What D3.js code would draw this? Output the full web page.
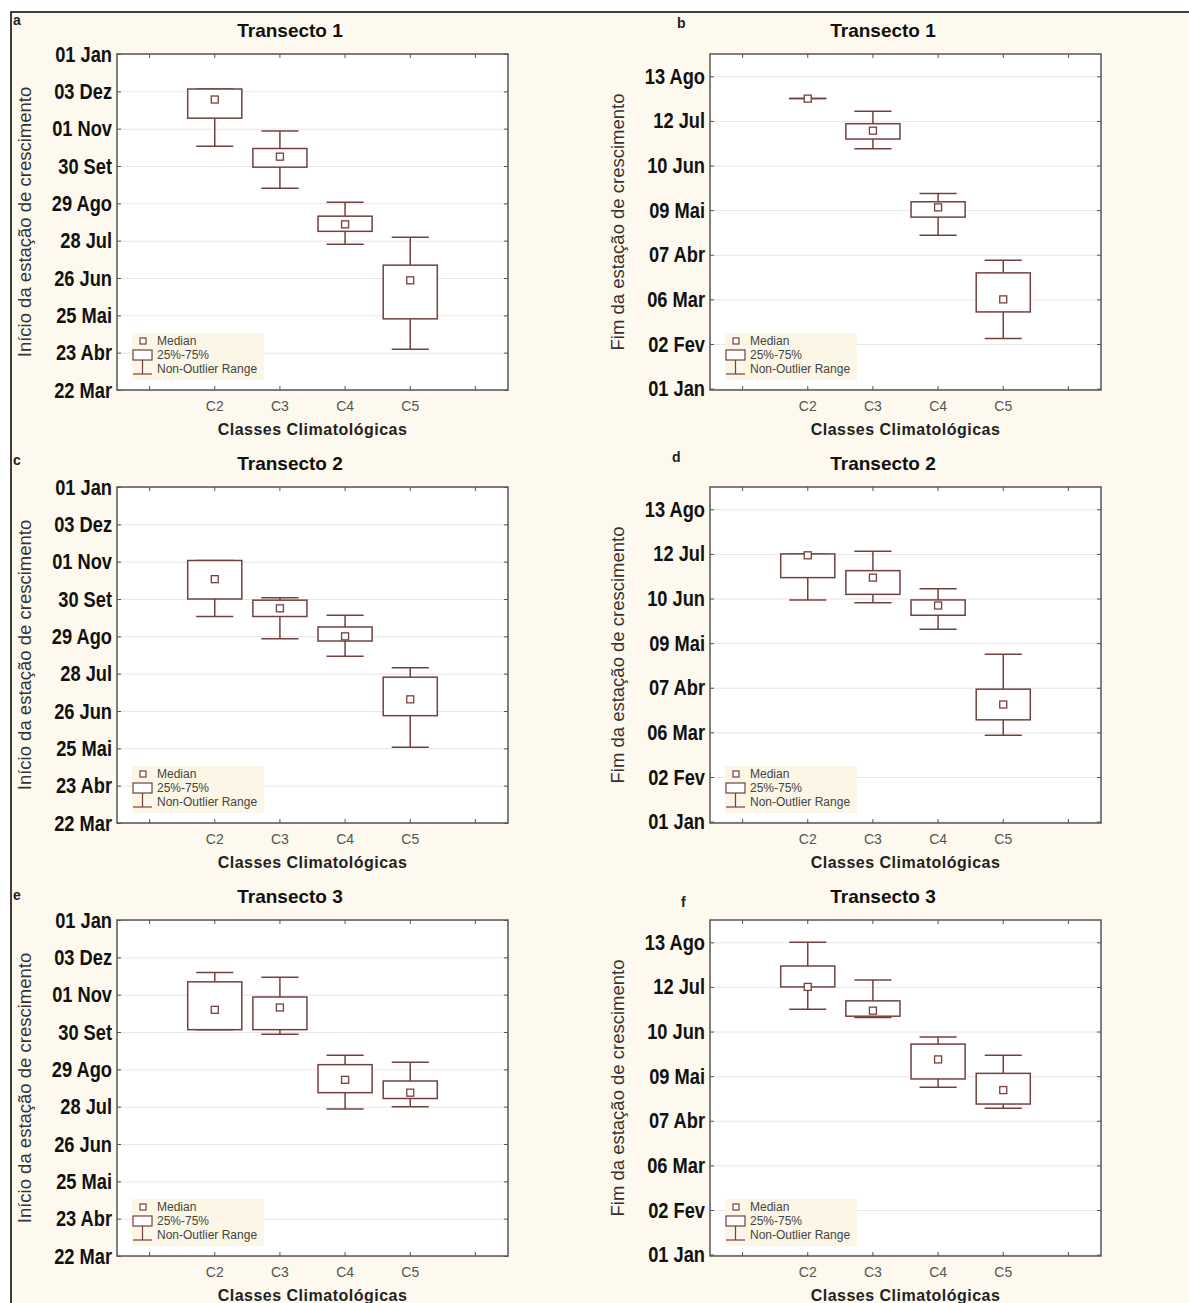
<!DOCTYPE html>
<html>
<head>
<meta charset="utf-8">
<script src="https://cdn.jsdelivr.net/npm/d3@7"></script>
<style>
  body { margin: 0; background: #fff; }
  text { font-family: "Liberation Sans", Arial, sans-serif; }
</style>
</head>
<body>
<div id="chart"></div>
<script>
// categories on the x axis (first and last slot are empty padding)
const categories = ["C2", "C3", "C4", "C5"];
const slots = ["pad1", "C2", "C3", "C4", "C5", "pad2"];

// y ticks, in day of year (ticks every 32 days)
const startTicks = [81, 113, 145, 177, 209, 241, 273, 305, 337, 369];
const startLabels = ["22 Mar", "23 Abr", "25 Mai", "26 Jun", "28 Jul", "29 Ago", "30 Set", "01 Nov", "03 Dez", "01 Jan"];
const endTicks = [1, 33, 65, 97, 129, 161, 193, 225];
const endLabels = ["01 Jan", "02 Fev", "06 Mar", "07 Abr", "09 Mai", "10 Jun", "12 Jul", "13 Ago"];

// [min, q1, median, q3, max] per class, day of year
const panelA = [[290, 314, 330, 339, 339], [254, 272, 281, 288, 303], [206, 217, 223, 230, 242], [116, 142, 175, 188, 212]];
const panelB = [[209, 209, 209, 209, 209], [173, 180, 186, 191, 200], [111, 124, 131, 135, 141], [37, 56, 65, 84, 93]];
const panelC = [[258, 273, 290, 306, 306], [239, 258, 265, 272, 274], [224, 237, 241, 249, 259], [146, 173, 187, 206, 214]];
const panelD = [[160, 176, 192, 193, 193], [158, 164, 176, 181, 195], [139, 149, 156, 160, 168], [63, 74, 85, 96, 121]];
const panelE = [[275, 275, 292, 316, 324], [271, 275, 294, 303, 320], [207, 221, 232, 245, 253], [209, 216, 221, 231, 247]];
const panelF = [[177, 193, 193, 208, 225], [171, 172, 176, 183, 198], [121, 127, 141, 152, 157], [106, 109, 119, 131, 144]];

const panels = [
  { letter: "a", title: "Transecto 1", kind: "start", data: panelA, col: 0, row: 0, lx: 13, ly: 25 },
  { letter: "b", title: "Transecto 1", kind: "end", data: panelB, col: 1, row: 0, lx: 677, ly: 28 },
  { letter: "c", title: "Transecto 2", kind: "start", data: panelC, col: 0, row: 1, lx: 13, ly: 465 },
  { letter: "d", title: "Transecto 2", kind: "end", data: panelD, col: 1, row: 1, lx: 672, ly: 462 },
  { letter: "e", title: "Transecto 3", kind: "start", data: panelE, col: 0, row: 2, lx: 13, ly: 900 },
  { letter: "f", title: "Transecto 3", kind: "end", data: panelF, col: 1, row: 2, lx: 681, ly: 907 }
];

const width = 1189, height = 1303;
const plotW = 391, plotH = 336;
const lefts = [117, 710];
const tops = [54, 487, 920];
const boxColor = "#74403f";
const frameColor = "#555";
const narrow = 0.83; // squeeze for the condensed tick labels

const svg = d3.select("#chart")
  .append("svg")
  .attr("width", width)
  .attr("height", height);

// cream figure background with the black border on left and top
svg.append("rect")
  .attr("x", 11).attr("y", 12)
  .attr("width", width - 11).attr("height", height - 12)
  .attr("fill", "#fdf9ee");
svg.append("path")
  .attr("d", `M11,${height} V12 H${width}`)
  .attr("fill", "none")
  .attr("stroke", "#000")
  .attr("stroke-width", 1.5);

panels.forEach(p => {
  const x0 = lefts[p.col], y0 = tops[p.row];
  const isStart = p.kind === "start";
  const ticks = isStart ? startTicks : endTicks;
  const labels = isStart ? startLabels : endLabels;

  const x = d3.scaleBand().domain(slots).range([0, plotW]);
  const y = d3.scaleLinear()
    .domain(isStart ? [81, 369] : [0, 241])
    .range([plotH, 0]);

  svg.append("text")
    .attr("x", p.lx).attr("y", p.ly)
    .attr("font-size", 14)
    .attr("font-weight", "bold")
    .attr("fill", "#222")
    .text(p.letter);

  const g = svg.append("g").attr("transform", `translate(${x0},${y0})`);

  g.append("rect")
    .attr("width", plotW).attr("height", plotH)
    .attr("fill", "#fff");

  // gridlines
  g.append("g")
    .call(d3.axisLeft(y).tickValues(ticks).tickSize(-plotW).tickFormat(""))
    .call(a => a.select(".domain").remove())
    .selectAll("line")
    .attr("stroke", "#e6e6e6");

  // left axis with labels
  const yAxis = g.append("g")
    .call(d3.axisLeft(y)
      .tickValues(ticks)
      .tickSize(-4)
      .tickFormat((d, i) => labels[i]));
  yAxis.select(".domain").remove();
  yAxis.selectAll("line").attr("stroke", frameColor);
  yAxis.selectAll("text")
    .attr("x", -5 / narrow)
    .attr("transform", `scale(${narrow},1)`)
    .attr("font-size", 22)
    .attr("font-weight", "bold")
    .attr("fill", "#111");

  // right axis ticks
  const yRight = g.append("g")
    .attr("transform", `translate(${plotW},0)`)
    .call(d3.axisRight(y).tickValues(ticks).tickSize(-4).tickFormat(""));
  yRight.select(".domain").remove();
  yRight.selectAll("line").attr("stroke", frameColor);

  // bottom axis
  const xAxis = g.append("g")
    .attr("transform", `translate(0,${plotH})`)
    .call(d3.axisBottom(x)
      .tickSize(-4)
      .tickPadding(11)
      .tickFormat(d => categories.includes(d) ? d : ""));
  xAxis.select(".domain").remove();
  xAxis.selectAll("line").attr("stroke", frameColor);
  xAxis.selectAll("text")
    .attr("font-size", 14)
    .attr("fill", "#555");

  // top axis ticks
  const xTop = g.append("g")
    .call(d3.axisTop(x).tickSize(-4).tickFormat(""));
  xTop.select(".domain").remove();
  xTop.selectAll("line").attr("stroke", frameColor);

  // boxes
  const bw = x.bandwidth();
  const boxW = bw * 0.83, capW = bw * 0.57;
  const boxes = g.selectAll(".box")
    .data(p.data)
    .join("g")
    .attr("class", "box")
    .attr("transform", (d, i) => `translate(${x(categories[i]) + bw / 2},0)`);

  boxes.append("line")
    .attr("y1", d => y(d[4])).attr("y2", d => y(d[3]))
    .attr("stroke", boxColor).attr("stroke-width", 1.5);
  boxes.append("line")
    .attr("y1", d => y(d[1])).attr("y2", d => y(d[0]))
    .attr("stroke", boxColor).attr("stroke-width", 1.5);
  boxes.append("line")
    .attr("x1", -capW / 2).attr("x2", capW / 2)
    .attr("y1", d => y(d[4])).attr("y2", d => y(d[4]))
    .attr("stroke", boxColor).attr("stroke-width", 1.5);
  boxes.append("line")
    .attr("x1", -capW / 2).attr("x2", capW / 2)
    .attr("y1", d => y(d[0])).attr("y2", d => y(d[0]))
    .attr("stroke", boxColor).attr("stroke-width", 1.5);
  boxes.append("rect")
    .attr("x", -boxW / 2)
    .attr("width", boxW)
    .attr("y", d => y(d[3]))
    .attr("height", d => y(d[1]) - y(d[3]))
    .attr("fill", "#fff")
    .attr("stroke", boxColor)
    .attr("stroke-width", 1.5);
  boxes.append("rect")
    .attr("x", -3.5).attr("width", 7)
    .attr("y", d => y(d[2]) - 3.5).attr("height", 7)
    .attr("fill", "#fff")
    .attr("stroke", boxColor)
    .attr("stroke-width", 1.3);

  // legend
  const legend = g.append("g").attr("transform", `translate(15,${plotH - 57})`);
  legend.append("rect")
    .attr("width", 132).attr("height", 47)
    .attr("fill", "#fbf6e6");
  legend.append("rect")
    .attr("x", 8).attr("y", 5).attr("width", 6).attr("height", 6)
    .attr("fill", "#fff").attr("stroke", boxColor).attr("stroke-width", 1.2);
  legend.append("rect")
    .attr("x", 1).attr("y", 17).attr("width", 19).attr("height", 10)
    .attr("fill", "#fff").attr("stroke", boxColor).attr("stroke-width", 1.2);
  legend.append("line")
    .attr("x1", 10.5).attr("x2", 10.5).attr("y1", 27).attr("y2", 41)
    .attr("stroke", boxColor).attr("stroke-width", 1.2);
  legend.append("line")
    .attr("x1", 1).attr("x2", 20).attr("y1", 41).attr("y2", 41)
    .attr("stroke", boxColor).attr("stroke-width", 1.2);
  legend.selectAll(".ltext")
    .data(["Median", "25%-75%", "Non-Outlier Range"])
    .join("text")
    .attr("class", "ltext")
    .attr("x", 25)
    .attr("y", (d, i) => 12 + i * 14)
    .attr("font-size", 12)
    .attr("fill", "#444")
    .text(d => d);

  // frame
  g.append("rect")
    .attr("width", plotW).attr("height", plotH)
    .attr("fill", "none")
    .attr("stroke", frameColor)
    .attr("stroke-width", 1.5);

  // titles
  g.append("text")
    .attr("x", 173).attr("y", -17)
    .attr("text-anchor", "middle")
    .attr("font-size", 19)
    .attr("font-weight", "bold")
    .attr("fill", "#111")
    .text(p.title);

  g.append("text")
    .attr("x", plotW / 2).attr("y", plotH + 45)
    .attr("text-anchor", "middle")
    .attr("font-size", 16)
    .attr("font-weight", "bold")
    .attr("letter-spacing", 0.5)
    .attr("fill", "#222")
    .text("Classes Climatológicas");

  g.append("text")
    .attr("transform", `translate(-86,${plotH / 2}) rotate(-90)`)
    .attr("text-anchor", "middle")
    .attr("font-size", 18.5)
    .attr("fill", "#333")
    .text(isStart ? "Início da estação de crescimento" : "Fim da estação de crescimento");
});
</script>
</body>
</html>
